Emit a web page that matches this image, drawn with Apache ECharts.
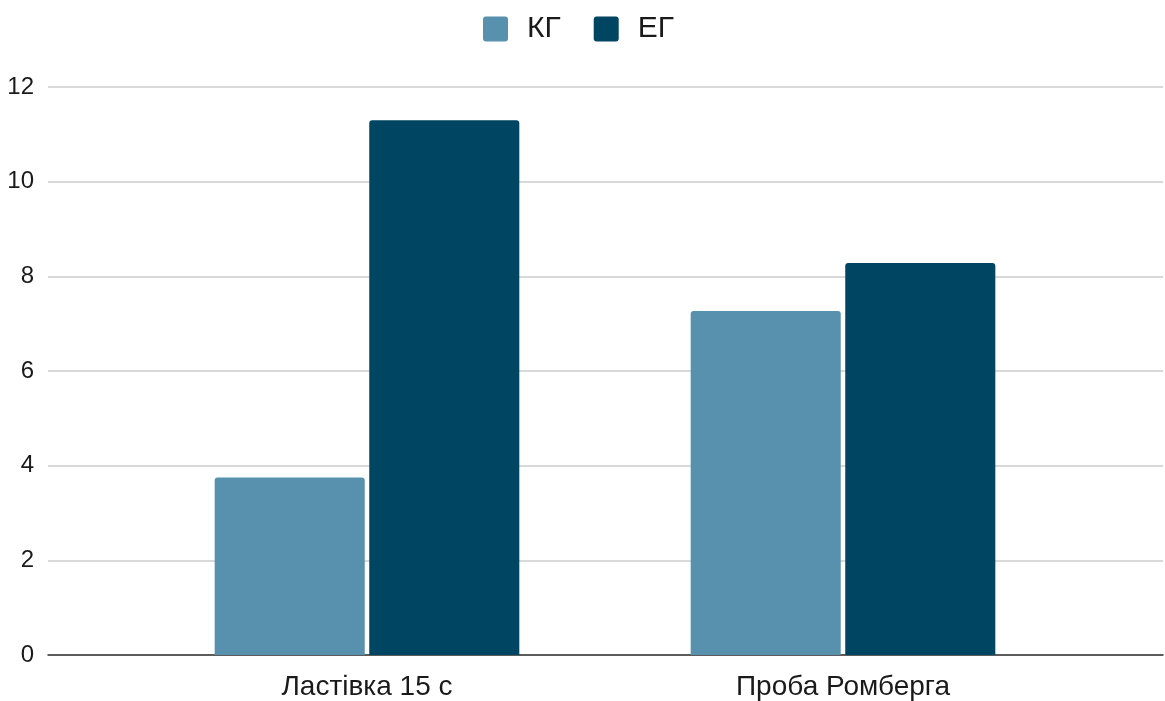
<!DOCTYPE html>
<html>
<head>
<meta charset="utf-8">
<script src="https://cdn.jsdelivr.net/npm/echarts@6/dist/echarts.min.js"></script>
<style>
  html, body { margin: 0; padding: 0; background: #fff; }
  #chart { width: 1165px; height: 701px; }
</style>
</head>
<body>
<div id="chart"></div>
<script>
// data
const categories = ['Ластівка 15 с', 'Проба Ромберга']
const kgValues = [3.75, 7.27]
const egValues = [11.3, 8.28]
const yTicks = { min: 0, max: 12, interval: 2 }

const chart = echarts.init(document.getElementById('chart'))
const font = '"Liberation Sans", Arial, sans-serif'
// square legend marker with small corners
const legendIcon = 'path://M3,0H22A3,3,0,0,1,25,3V22A3,3,0,0,1,22,25H3A3,3,0,0,1,0,22V3A3,3,0,0,1,3,0Z'

const option = {
  animation: false,
  color: ['#5891ad', '#004561'],
  textStyle: { fontFamily: font },
  legend: {
    top: 14,
    left: 483,
    padding: 0,
    itemWidth: 25,
    itemHeight: 25,
    itemGap: 33,
    icon: legendIcon,
    textStyle: { fontSize: 30, color: '#1a1a1a', fontFamily: font, padding: [0, 0, 0, 14] },
    data: ['КГ', 'ЕГ']
  },
  // grid 0 carries the full-width gridlines and labels, grid 1 the bars
  grid: [
    { left: 48, right: 2, top: 87, bottom: 46 },
    { left: 129, right: 84, top: 87, bottom: 46 }
  ],
  xAxis: [
    {
      gridIndex: 0,
      type: 'value',
      min: 0,
      max: 1,
      axisLabel: { show: false },
      axisTick: { show: false },
      splitLine: { show: false },
      axisLine: { show: true, onZero: true, lineStyle: { color: '#333', width: 1.5 } }
    },
    {
      gridIndex: 1,
      type: 'category',
      data: categories,
      axisLine: { show: false },
      axisTick: { show: false },
      axisLabel: { fontSize: 28, color: '#1a1a1a', margin: 18, fontFamily: font }
    }
  ],
  yAxis: [
    {
      gridIndex: 0,
      type: 'value',
      min: yTicks.min,
      max: yTicks.max,
      interval: yTicks.interval,
      axisLabel: { fontSize: 24, color: '#1a1a1a', margin: 14, fontFamily: font },
      axisLine: { show: false },
      axisTick: { show: false },
      splitLine: { lineStyle: { color: '#cccccc', width: 1.5 } }
    },
    {
      gridIndex: 1,
      type: 'value',
      min: yTicks.min,
      max: yTicks.max,
      interval: yTicks.interval,
      show: false,
      splitLine: { show: false }
    }
  ],
  series: [
    {
      name: 'КГ',
      type: 'bar',
      xAxisIndex: 1,
      yAxisIndex: 1,
      data: kgValues,
      barGap: '3%',
      barCategoryGap: '36%',
      itemStyle: { borderRadius: [3, 3, 0, 0] }
    },
    {
      name: 'ЕГ',
      type: 'bar',
      xAxisIndex: 1,
      yAxisIndex: 1,
      data: egValues,
      barGap: '3%',
      barCategoryGap: '36%',
      itemStyle: { borderRadius: [3, 3, 0, 0] }
    }
  ]
}

chart.setOption(option)
</script>
</body>
</html>
